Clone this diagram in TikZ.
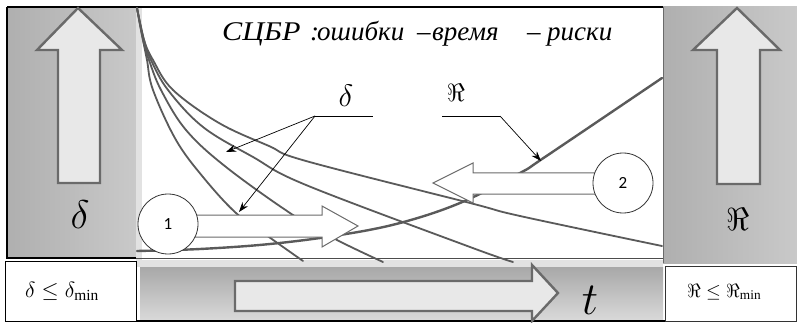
\RequirePackage{fix-cm}
\documentclass[tikz,border=0pt]{standalone}
\usepackage{graphicx}
\usepackage{fontspec}
\setmainfont{Liberation Serif}
\newfontfamily\numfont{Carlito}
\usetikzlibrary{arrows.meta}
\definecolor{curvegray}{HTML}{5A5A5A}
\definecolor{outlinegray}{HTML}{6A6A6A}
\definecolor{arrowfill}{HTML}{E8E8E8}
\definecolor{panelA}{HTML}{AFAFAF}
\definecolor{panelB}{HTML}{C9C9C9}
\definecolor{barA}{HTML}{A8A8A8}
\definecolor{barB}{HTML}{DADADA}
\definecolor{strip}{HTML}{E2E2E2}
\newcommand{\tw}[2]{\scalebox{#1}[1]{#2}}
\tikzset{
  curve/.style={draw=curvegray, line width=1.8pt, line cap=round},
  rcurve/.style={draw=curvegray, line width=2.4pt, line cap=round},
  bigarrow/.style={draw=outlinegray, line width=2.4pt, fill=arrowfill, line join=miter},
  flatarrow/.style={draw=outlinegray, line width=1pt, fill=white, line join=miter},
  pointer/.style={draw=black, line width=0.7pt, -{Stealth[length=10pt,width=7pt]}},
  frame/.style={draw=black, line width=1.4pt},
  numcircle/.style={circle, draw=black!80, line width=0.8pt, fill=white, minimum size=60pt, inner sep=0pt, font=\numfont\fontsize{17}{17}\selectfont},
  boxtext/.style={inner sep=0pt},
}
\begin{document}
\begin{tikzpicture}[x=1pt,y=-1pt]
\useasboundingbox (0,0) rectangle (797,323);
\fill[white] (0,0) rectangle (797,323);
% panels
\shade[left color=panelA, right color=panelB] (7,7) rectangle (136,258);
\fill[strip] (136,7) rectangle (142,260);
\shade[left color=panelA, right color=panelB] (663,7) rectangle (797,263);
\draw[outlinegray, line width=0.8pt] (663,7) -- (663,263);
\fill[strip] (136,260) rectangle (663,267);
\shade[top color=barA, bottom color=barB] (140,267) rectangle (663,321);
% frame lines
\draw[frame] (7,7) -- (663,7);
\draw[frame] (7,7) -- (7,258) -- (136,258);
\draw[line width=0.8pt, black!70] (136,258) -- (663,258);
\draw[frame] (5,321) -- (797,321);
% bottom boxes
\node[draw=black, line width=1.2pt, fill=white, minimum width=131pt, minimum height=60pt, inner sep=0pt, anchor=north west] (lbox) at (5,261) {};
\node[draw=black!80, line width=1.2pt, fill=white, minimum width=131pt, minimum height=55pt, inner sep=0pt, anchor=north west] (rbox) at (665,266) {};
\node[boxtext, anchor=base west] (lboxtext) at (25,297) {\fontsize{22}{22}\selectfont$\delta\le\delta_{\min}$};
\node[boxtext, anchor=base west] (rboxtext) at (687,297) {\fontsize{19}{19}\selectfont$\Re\le\Re_{\min}$};
% up arrows
\draw[bigarrow] (58,183) -- (58,50) -- (37,50) -- (78,8) -- (122,50) -- (100,50) -- (100,183) -- cycle;
\draw[bigarrow] (717,184) -- (717,50) -- (693,50) -- (737,8) -- (780,50) -- (760,50) -- (760,184) -- cycle;
\node[boxtext, anchor=base] (pdelta) at (80,228) {\fontsize{40}{40}\selectfont$\delta$};
\node[boxtext, anchor=base] (pre) at (738,230) {\fontsize{32}{32}\selectfont$\Re$};
% t arrow
\draw[bigarrow] (235,281) -- (532,281) -- (532,265) -- (558,293) -- (532,321) -- (532,311) -- (235,311) -- cycle;
\node[boxtext, anchor=base] (tlabel) at (590,314) {\fontsize{46}{46}\selectfont$t$};
% title
\node[boxtext, anchor=base west] (title) at (222,41) {\fontsize{27}{30}\selectfont\itshape
  \makebox[88pt][l]{\tw{1.12}{СЦБР}}\makebox[7pt][l]{:}\makebox[100pt][l]{ошибки}\makebox[15pt][l]{–}\makebox[95pt][l]{время}\makebox[20pt][l]{–}риски};
% delta curves
\draw[curve] plot[smooth, tension=0.6] coordinates {(137,8) (143,40) (147,60) (153,90) (176,140) (203,177) (236,213) (269,237) (303,261)};
\draw[curve] plot[smooth, tension=0.6] coordinates {(137,8) (143,40) (149,60) (161,90) (186,130) (226,167) (293,215) (337,240) (383,262)};
\draw[curve] plot[smooth, tension=0.6] coordinates {(137,8) (144,40) (151,60) (168,90) (203,127) (253,157) (306,185) (470,247) (513,262)};
\draw[curve] plot[smooth, tension=0.6] coordinates {(137,8) (144,40) (153,60) (173,90) (219,123) (269,146) (306,161) (470,203) (520,216) (662,246)};
% risk curve
\draw[rcurve] plot[smooth, tension=0.6] coordinates {(137,251) (200,249) (270,244) (340,235) (400,223) (460,203) (520,173) (545,157) (662,78)};
% flat arrows
\draw[flatarrow] (190,215) -- (322,215) -- (322,206) -- (358,226) -- (322,247) -- (322,237) -- (190,237) -- cycle;
\draw[flatarrow] (600,173) -- (473,173) -- (473,163) -- (433,183) -- (473,203) -- (473,194) -- (600,194) -- cycle;
\node[numcircle] (c1) at (168,224) {1};
\node[numcircle] (c2) at (623,183) {2};
% annotations
\node[boxtext, anchor=base] (dlab) at (346,107) {\fontsize{31}{31}\selectfont$\delta$};
\node[boxtext, anchor=base] (rlab) at (456,102) {\fontsize{25}{25}\selectfont$\Re$};
\coordinate (dl) at (315,116);
\coordinate (dr) at (373,116);
\coordinate (rl) at (442,116);
\coordinate (rr) at (500,116);
\coordinate (tipA) at (226,152);
\coordinate (tipB) at (239,212);
\coordinate (tipR) at (541,161);
\draw[line width=0.8pt] (dl) -- (dr);
\draw[line width=0.8pt] (rl) -- (rr);
\draw[pointer] (dl) -- (tipA);
\draw[pointer] (dl) -- (tipB);
\draw[pointer] (rr) -- (tipR);
\end{tikzpicture}
\end{document}
